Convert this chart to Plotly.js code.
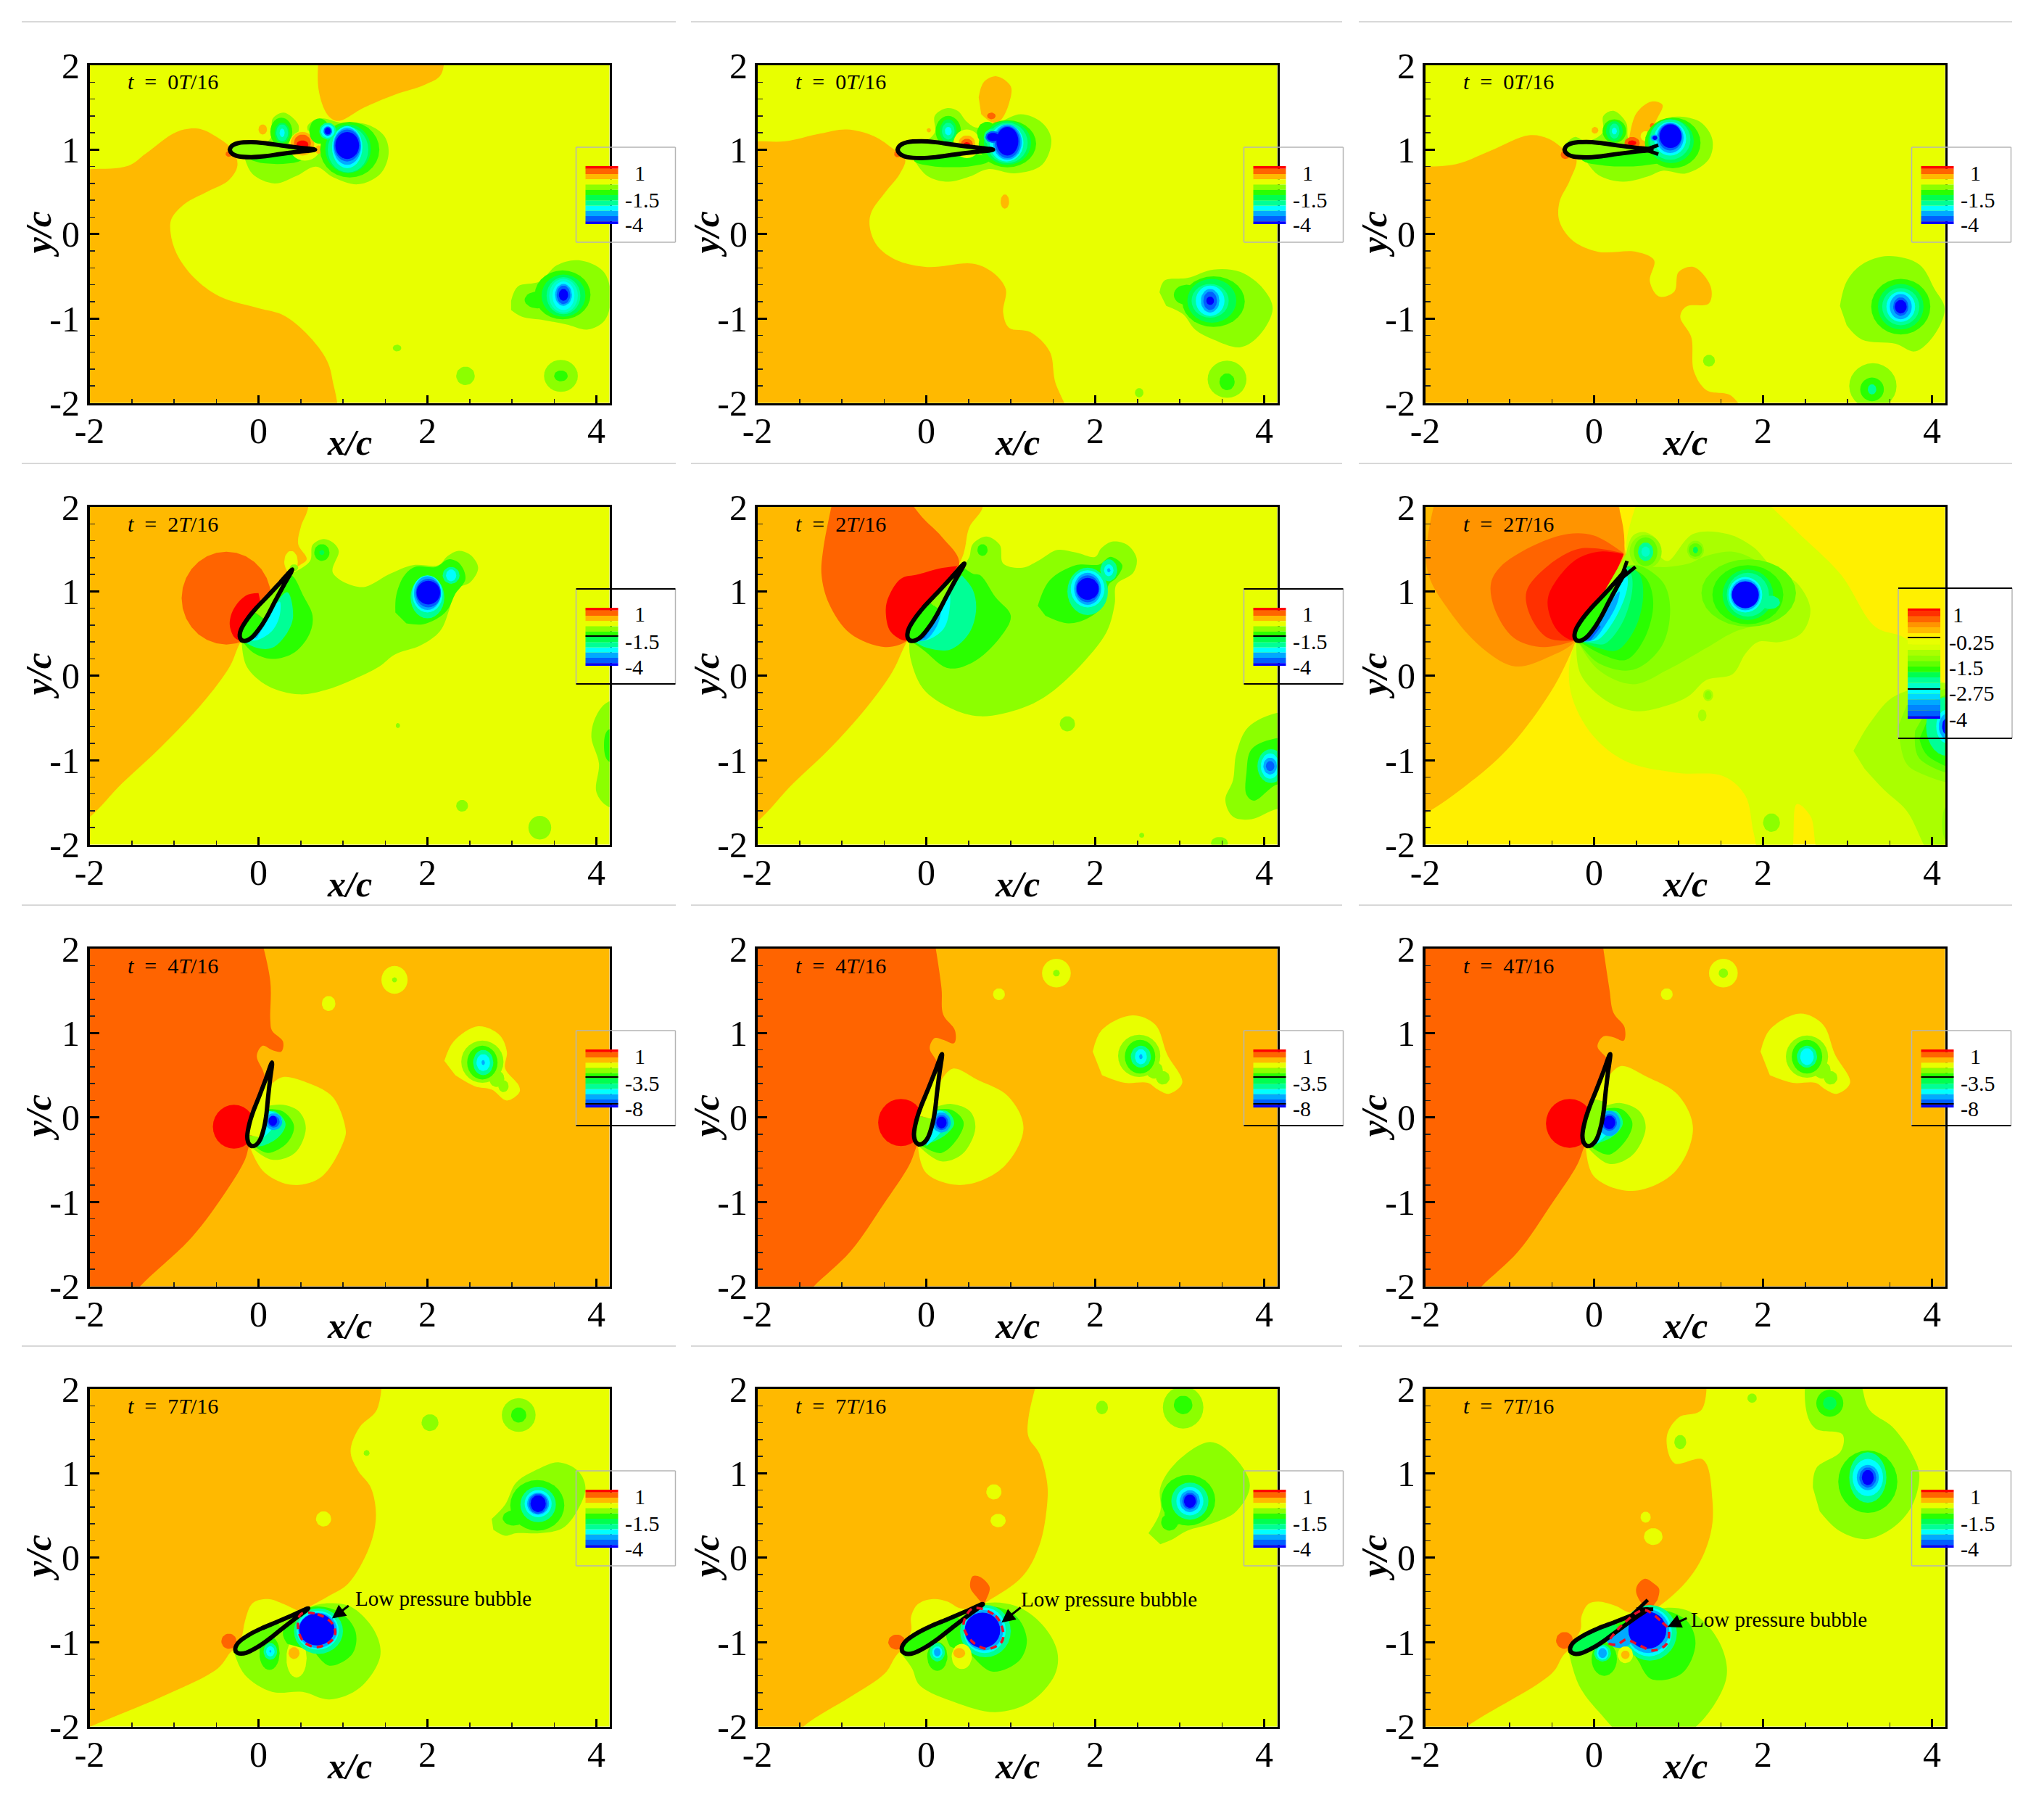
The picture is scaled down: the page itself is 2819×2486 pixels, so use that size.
<!DOCTYPE html>
<html><head><meta charset="utf-8">
<script src="https://cdn.plot.ly/plotly-3.0.1.min.js"></script>
<style>html,body{margin:0;padding:0;background:#fff}#c{width:2819px;height:2486px}</style></head>
<body><div id="c"></div>
<script>
// ---------- colour levels ----------
const colours={R:'#ff0000',Q:'#ff3000',O:'#ff6400',P:'#ff9400',A:'#ffb900',Y:'#fff000',E:'#e8ff00',D:'#d8ff00',H:'#aaff00',C:'#8cff00',F:'#60ff00',G:'#2aff00',N:'#00ff50',S:'#00ff96',T:'#00ffc8',K:'#00ffff',L:'#00aaff',B:'#0060ff',V:'#0000ff'};
const bar12=['R','O','A','E','C','G','N','S','K','L','B','V'];
const bar12h=[.5,1,1,1,1,1,1,1,1,1,1,.5];
const bar21=['R','Q','O','P','A','Y','E','D','H','C','F','G','N','S','T','K','K2','L','B2','B','V'];
const bar21h=[.5,1,1,1,1,1,1,1,1,1,1,1,1,1,1,1,1,1,1,1,.5];
colours.K2='#00d8ff';colours.B2='#0084ff';
const labelsDefault=['1','-1.5','-4'];
const labelsFour=['1','-3.5','-8'];
const labelsFine=['1','-0.25','-1.5','-2.75','-4'];
const xTickVals=[-2,0,2,4], xTickText=['\u20102','0','2','4'];
const yTickVals=[-2,-1,0,1,2], yTickText=['\u20102','\u20101','0','1','2'];
const foilChord=[0,.012,.04,.1,.25,.4,.6,.8,1];
const foilThick=[0,.03,.055,.078,.088,.078,.05,.025,0];

// ---------- contour regions: [level, x,y,x,y,...] polygon or [level, cx,cy,rx,ry,'e'] ellipse ----------
const r1c1=[
['E',-3,-3,5,-3,5,3,-3,3],
['A',-2.6,.77,-2,.77,-1.54,.81,-1.34,.95,-.97,1.21,-.72,1.25,-.51,1.16,-.30,.99,-.25,.81,-.35,.64,-.61,.50,-.87,.36,-1.03,.18,-1.04,.01,-.97,-.23,-.77,-.51,-.46,-.74,.01,-.88,.27,-.95,.53,-1.14,.79,-1.46,.87,-1.70,.87,-2.3,-2.6,-2.3],
['A',.73,2.3,.71,1.72,.82,1.41,.94,1.34,1.25,1.5,1.61,1.65,1.97,1.77,2.16,1.89,2.2,2.3],
['C',-.17,.92,-.07,.71,.19,.60,.45,.69,.68,.80,.89,.67,1.18,.59,1.44,.71,1.54,.95,1.49,1.16,1.28,1.30,.97,1.32,.74,1.37,.58,1.28,.64,1.06,.48,1.13,.47,1.30,.30,1.44,.17,1.37,.14,1.13,-.15,.99],
['G',.22,.9,.32,.07,'e'],['G',.27,1.21,.13,.17,'e'],['N',.28,1.2,.09,.12,'e'],['S',.28,1.2,.07,.1,'e'],['K',.28,1.2,.03,.05,'e'],
['E',.55,1.05,.19,.18,'e'],['A',.52,1.07,.14,.14,'e'],['O',.52,1.08,.1,.1,'e'],['R',.52,1.06,.07,.05,'e'],
['A',.71,1.0,.04,.05,'e'],
['G',1.08,1.0,.35,.33,'e'],['G',.72,1.22,.12,.15,'e'],['N',1.06,1.01,.27,.29,'e'],['S',1.06,1.0,.24,.27,'e'],['K',1.05,1.03,.18,.25,'e'],['L',1.05,1.04,.165,.22,'e'],['B',1.05,1.05,.155,.19,'e'],['V',1.05,1.05,.14,.16,'e'],
['S',.82,1.22,.1,.1,'e'],['K',.82,1.22,.08,.08,'e'],['B',.82,1.22,.05,.055,'e'],['V',.82,1.22,.035,.04,'e'],
['A',.05,1.24,.05,.06,'e'],['O',-.35,.95,.04,.035,'e'],
['C',2.99,-.79,3.07,-.62,3.33,-.56,3.53,-.37,3.79,-.31,4.08,-.44,4.17,-.72,4.10,-1.02,3.90,-1.13,3.64,-1.07,3.38,-1.02,3.12,-.98,2.99,-.90],
['G',3.3,-.78,.15,.1,'e'],['G',3.6,-.72,.33,.29,'e'],['N',3.61,-.73,.26,.25,'e'],['S',3.61,-.73,.2,.22,'e'],['T',3.61,-.73,.17,.2,'e'],['K',3.61,-.73,.13,.17,'e'],['L',3.61,-.72,.1,.13,'e'],['B',3.61,-.72,.08,.11,'e'],['V',3.61,-.72,.055,.07,'e'],
['C',1.64,-1.35,.05,.04,'e'],['C',2.45,-1.68,.11,.11,'e'],['C',3.58,-1.68,.2,.19,'e'],['G',3.58,-1.68,.08,.065,'e']
];
const r1c2=[
['E',-3,-3,5,-3,5,3,-3,3],
['A',-2.6,1.1,-2,1.10,-1.67,1.10,-1.26,1.19,-.94,1.24,-.62,1.16,-.38,1.0,-.25,.89,-.31,.72,-.49,.49,-.65,.26,-.67,.09,-.58,-.14,-.35,-.31,.01,-.39,.55,-.35,.78,-.45,.94,-.65,.91,-.93,.98,-1.11,1.23,-1.16,1.46,-1.39,1.52,-1.73,1.66,-2.3,-2.6,-2.3],
['A',.62,1.62,.68,1.8,.83,1.87,1.0,1.75,.98,1.55,.88,1.35,.79,1.32,.65,1.42],
['O',.77,1.40,.05,.04,'e'],['A',.93,.385,.05,.085,'e'],['A',.03,1.23,.025,.025,'e'],['O',-.34,.95,.04,.04,'e'],
['C',-.15,.89,.01,.69,.26,.62,.51,.68,.73,.77,1.05,.72,1.37,.82,1.48,1.12,1.37,1.32,1.12,1.42,.87,1.33,.6,1.26,.48,1.33,.37,1.46,.24,1.49,.1,1.40,.10,1.20,-.04,1.09,-.26,1.09,-.33,1.05],
['G',.3,.88,.45,.09,'e'],['G',.26,1.22,.15,.18,'e'],['N',.26,1.22,.1,.14,'e'],['S',.26,1.22,.075,.1,'e'],['K',.26,1.22,.04,.05,'e'],
['E',.48,1.07,.16,.17,'e'],['A',.48,1.07,.1,.1,'e'],['O',.48,1.07,.07,.06,'e'],['R',.48,1.06,.04,.03,'e'],
['G',.96,1.07,.34,.28,'e'],['G',.72,1.2,.12,.13,'e'],['N',.96,1.08,.28,.26,'e'],['S',.96,1.08,.24,.24,'e'],['S',.79,1.15,.11,.1,'e'],['K',.95,1.08,.2,.22,'e'],['L',.96,1.09,.17,.21,'e'],['B',.96,1.09,.15,.19,'e'],['B',.79,1.15,.09,.07,'e'],['V',.96,1.10,.13,.17,'e'],['V',.79,1.15,.07,.05,'e'],
['C',2.76,-.69,2.82,-.55,3.09,-.52,3.40,-.42,3.72,-.45,3.99,-.65,4.10,-.88,3.95,-1.19,3.72,-1.34,3.40,-1.25,3.18,-1.13,3.04,-.95,2.84,-.85],
['G',3.08,-.72,.15,.12,'e'],['G',3.4,-.8,.37,.3,'e'],['N',3.38,-.79,.29,.26,'e'],['S',3.36,-.79,.22,.2,'e'],['K',3.36,-.79,.17,.18,'e'],['L',3.36,-.79,.11,.14,'e'],['B',3.36,-.79,.08,.11,'e'],['V',3.36,-.79,.045,.05,'e'],
['C',3.56,-1.72,.23,.22,'e'],['G',3.56,-1.75,.09,.1,'e'],['C',2.52,-1.88,.05,.055,'e']
];
const r1c3=[
['E',-3,-3,5,-3,5,3,-3,3],
['A',-2.6,.8,-1.99,.80,-1.63,.83,-1.22,.99,-.77,1.17,-.54,1.13,-.34,.99,-.21,.89,-.29,.63,-.41,.38,-.41,.15,-.25,-.08,.05,-.21,.5,-.21,.71,-.31,.66,-.56,.77,-.74,.95,-.68,1.0,-.45,1.18,-.39,1.38,-.62,1.36,-.82,1.09,-.86,1.02,-.98,1.15,-1.22,1.18,-1.62,1.33,-1.85,1.63,-1.92,1.8,-2.3,-2.6,-2.3],
['C',-.11,.89,.05,.70,.34,.62,.63,.68,.81,.75,1.09,.72,1.36,.89,1.40,1.12,1.27,1.32,1.04,1.39,.86,1.37,.68,1.23,.54,1.06,.41,1.12,.38,1.32,.23,1.46,.11,1.40,.10,1.20,-.09,1.10,-.23,1.15,-.34,1.07],
['G',.35,.89,.5,.09,'e'],['G',.24,1.22,.14,.14,'e'],['N',.24,1.22,.1,.12,'e'],['S',.24,1.22,.06,.09,'e'],['K',.24,1.22,.03,.04,'e'],
['A',.41,1.1,.5,1.43,.68,1.57,.81,1.53,.72,1.31,.68,1.1,.63,1.02,.45,1.03],
['E',.61,1.16,.06,.06,'e'],['O',.69,1.285,.03,.03,'e'],['O',.45,1.08,.09,.07,'e'],['R',.45,1.08,.05,.03,'e'],['A',.01,1.23,.04,.04,'e'],['O',-.34,.94,.055,.05,'e'],
['G',.93,1.08,.33,.3,'e'],['N',.91,1.1,.27,.26,'e'],['S',.9,1.12,.24,.24,'e'],['K',.9,1.13,.19,.2,'e'],['L',.9,1.14,.16,.18,'e'],['B',.9,1.15,.14,.16,'e'],['V',.905,1.16,.13,.14,'e'],['L',.72,1.14,.05,.04,'e'],['V',.72,1.14,.03,.025,'e'],
['C',2.91,-.85,2.99,-.56,3.17,-.36,3.48,-.26,3.85,-.36,4.03,-.65,4.15,-.88,4.03,-1.19,3.80,-1.39,3.57,-1.30,3.17,-1.25,2.99,-1.08],
['G',3.63,-.86,.35,.33,'e'],['N',3.63,-.86,.27,.27,'e'],['S',3.63,-.86,.22,.22,'e'],['K',3.63,-.86,.17,.18,'e'],['L',3.63,-.86,.13,.15,'e'],['B',3.63,-.86,.09,.11,'e'],['V',3.63,-.86,.07,.08,'e'],
['C',3.3,-1.8,.28,.27,'e'],['G',3.29,-1.84,.14,.14,'e'],['S',3.29,-1.84,.05,.06,'e'],['C',1.36,-1.50,.07,.07,'e']
];
const r2c1=[
['E',-3,-3,5,-3,5,3,-3,3],
['A',.59,2.5,.59,2,.5,1.76,.47,1.56,.57,1.38,.45,1.28,.2,.9,-.2,.42,-.34,.11,-.66,-.32,-1.15,-.84,-1.61,-1.27,-2.1,-1.75,-2.6,-1.9,-2.6,2.5],
['E',.385,1.35,.08,.13,'e'],
['O',-.38,.92,.53,.55,'e'],
['R',0,.98,-.15,.95,-.3,.78,-.34,.6,-.28,.45,-.2,.42,-.1,.5,.05,.75],
['C',-.2,.42,-.14,.11,.11,-.12,.48,-.22,.79,-.17,1.11,-.05,1.43,.11,1.61,.25,1.92,.36,2.15,.53,2.26,.79,2.33,1.02,2.51,1.11,2.60,1.28,2.51,1.43,2.37,1.48,2.24,1.42,2.13,1.31,1.83,1.31,1.56,1.21,1.22,1.05,.88,1.22,.95,1.48,.88,1.58,.77,1.62,.64,1.55,.61,1.36,.41,1.22,.34,1.19,.2,.76],
['G',-.2,.42,-.07,.28,.16,.2,.43,.28,.61,.51,.64,.71,.54,.93,.38,1.19,.16,.82],
['S',-.2,.42,-.02,.33,.16,.33,.34,.51,.41,.71,.34,.99,.11,.71],
['K',-.14,.42,-.02,.42,.16,.53,.25,.71,.25,.88,.07,.65],
['L',-.17,.42,-.02,.45,.1,.65,.05,.65],
['C',.42,1.28,.05,.04,'e'],
['G',.75,1.46,.09,.1,'e'],['N',.75,1.46,.03,.03,'e'],
['G',1.62,.75,1.63,.95,1.72,1.18,1.85,1.29,2.1,1.29,2.25,1.38,2.38,1.33,2.45,1.15,2.33,.97,2.25,.80,2.15,.70,1.95,.61,1.75,.62],
['S',2.0,.93,.2,.25,'e'],['S',2.28,1.19,.1,.1,'e'],['K',2.0,.97,.18,.22,'e'],['K',2.28,1.19,.06,.07,'e'],['L',2.0,.98,.16,.2,'e'],['B',2.01,.98,.15,.17,'e'],['V',2.01,.985,.14,.14,'e'],
['C',4.4,-.31,4.14,-.31,4.0,-.47,3.94,-.72,4.03,-1.04,4.0,-1.38,4.14,-1.55,4.4,-1.55],
['G',4.4,-.64,4.14,-.64,4.09,-.81,4.14,-1.01,4.4,-1.01],
['C',1.65,-.59,.025,.03,'e'],['C',2.41,-1.54,.07,.07,'e'],['C',3.33,-1.80,.135,.14,'e']
];
const r2c2=[
['E',-3,-3,5,-3,5,3,-3,3],
['A',.67,2.5,.67,2,.51,1.76,.42,1.39,-.22,.42,-.4,.05,-.71,-.38,-1.12,-.84,-1.57,-1.27,-2.1,-1.8,-2.6,-1.95,-2.6,2.5],
['O',-1.08,2.2,-1.22,1.5,-1.24,1.19,-1.15,.85,-.9,.5,-.49,.34,-.22,.42,0,.8,.39,1.33,.18,1.65,-.05,1.88,-.29,2.2],
['R',.37,1.3,.15,1.27,-.1,1.2,-.3,1.15,-.44,.95,-.48,.78,-.42,.52,-.22,.42,0,.75],
['C',-.2,.42,-.19,.22,-.04,-.15,.28,-.38,.64,-.48,1.14,-.38,1.46,-.21,1.86,.16,2.14,.53,2.23,.85,2.25,1.08,2.45,1.22,2.49,1.39,2.38,1.55,2.20,1.59,2.07,1.51,2.0,1.41,1.77,1.46,1.55,1.49,1.32,1.36,1.14,1.28,.91,1.33,.87,1.55,.71,1.65,.55,1.56,.51,1.41,.46,1.33,.37,1.19],
['G',-.2,.42,-.04,.31,.26,.09,.55,.16,.87,.45,1.0,.71,.82,.93,.64,1.19,.55,1.21,.42,1.3],
['S',-.17,.42,.01,.33,.28,.31,.51,.51,.59,.79,.55,1.02,.42,1.19],
['K',-.15,.42,0,.42,.2,.55,.27,.75,.27,.98,.1,.75],
['L',-.14,.41,0,.43,.13,.6,.17,.75,.15,.85,.05,.65],
['B',-.13,.41,-.02,.45,.08,.6,.02,.6],
['G',.665,1.49,.06,.07,'e'],
['G',1.32,.83,1.46,1.13,1.77,1.31,2.05,1.32,2.18,1.41,2.32,1.31,2.25,1.16,2.16,1.08,2.11,.85,1.91,.68,1.68,.62,1.41,.71],
['S',1.91,1.0,.24,.28,'e'],['S',2.16,1.25,.1,.13,'e'],['K',1.91,1.03,.2,.22,'e'],['K',2.16,1.25,.055,.07,'e'],['L',2.16,1.25,.02,.025,'e'],['L',1.91,1.03,.16,.19,'e'],['B',1.91,1.03,.14,.16,'e'],['V',1.91,1.03,.13,.13,'e'],
['C',4.4,-.44,4.15,-.44,3.81,-.61,3.67,-.92,3.63,-1.24,3.54,-1.47,3.63,-1.67,3.85,-1.7,4.15,-1.58,4.4,-1.58],
['G',4.4,-.74,4.15,-.74,3.85,-.87,3.79,-1.15,3.79,-1.41,3.88,-1.48,4.15,-1.29,4.4,-1.29],
['S',4.08,-1.07,.16,.2,'e'],['K',4.07,-1.07,.11,.15,'e'],['L',4.07,-1.07,.08,.1,'e'],['B',4.07,-1.07,.05,.06,'e'],
['C',1.67,-.57,.09,.09,'e'],['C',2.55,-1.89,.03,.03,'e'],['C',3.47,-1.98,.1,.07,'e']
];
const r2c3=[
['Y',-3,-3,5,-3,5,3,-3,3],
['A',-.21,.42,-.47,-.12,-.98,-.82,-1.49,-1.28,-2.1,-1.68,-2.6,-1.8,-2.6,2.5,.3,2.5,.3,2,.38,1.4],
['P',-1.85,2.2,-1.98,1.28,-1.7,.75,-1.29,.3,-.93,.11,-.52,.23,-.21,.42,.35,1.45,.23,2.2],
['O',.35,1.45,0,1.66,-.31,1.68,-.7,1.55,-1.1,1.3,-1.22,1.1,-1.18,.8,-.95,.45,-.6,.34,-.21,.42],
['Q',.35,1.45,.1,1.5,-.2,1.5,-.55,1.3,-.8,1.0,-.75,.7,-.55,.45,-.21,.42],
['R',.35,1.44,.05,1.47,-.25,1.35,-.54,.95,-.52,.7,-.4,.5,-.21,.42,.1,.85],
['D',.56,2.2,.38,1.55,.45,1.2,-.21,.42,-.29,-.12,-.06,-.65,.35,-1,.97,-1.15,1.53,-1.19,1.79,-1.42,1.89,-1.87,1.99,-2.2,2.3,-2.2,2.4,-1.52,2.56,-1.66,2.72,-2.2,4.4,-2.2,4.4,-.2,4.15,-.1,3.69,.44,3.33,.58,2.92,1.2,2.41,1.7,1.89,2.2],
['H',3.07,-.89,3.28,-.54,3.58,-.23,4.4,-.15,4.4,-2.2,4.05,-2.2,3.7,-1.6,3.43,-1.35,3.2,-1.1],
['C',3.6,-.6,3.69,-1.03,3.85,-1.15,4.4,-1.25,4.4,-.15,3.9,-.25,3.7,-.35],
['F',3.8,-.65,3.85,-.98,4.4,-1.15,4.4,-.2,4.0,-.3],
['G',3.85,-.75,3.95,-.95,4.4,-1.1,4.4,-.3,4.0,-.4],
['S',4.18,-.6,.25,.35,'e'],['K',4.18,-.6,.13,.2,'e'],['L',4.18,-.6,.1,.15,'e'],['V',4.18,-.6,.06,.1,'e'],
['H',-.21,.42,-.16,.02,.15,-.3,.51,-.42,.87,-.35,1.12,-.24,1.33,-.05,1.64,.02,1.79,.26,1.94,.4,2.2,.4,2.46,.51,2.56,.79,2.4,1.1,2.15,1.24,1.89,1.52,1.58,1.68,1.17,1.68,.87,1.36,.76,1.45,.76,1.59,.61,1.7,.46,1.66,.38,1.45],
['H',1.35,-.23,.06,.07,'e'],['H',1.28,-.47,.05,.07,'e'],['C',1.35,-.23,.04,.05,'e'],
['C',2.1,-1.74,.1,.11,'e'],['C',4.17,-1.75,.05,.2,'e'],
['C',-.2,.42,.05,.07,.46,-.1,.87,.07,1.33,.33,1.64,.51,2.15,.68,2.33,.86,2.2,1.0,2.05,1.24,1.89,1.38,1.64,1.47,1.33,1.42,1.12,1.33,.87,1.29,.71,1.29,.4,1.3],
['C',.61,1.47,.19,.2,'e'],['C',1.2,1.49,.1,.11,'e'],
['F',-.2,.42,.05,.15,.46,.07,.8,.35,.9,.79,.82,1.1,.55,1.3,.37,1.3],
['F',1.83,.98,.56,.4,'e'],['F',.61,1.47,.14,.17,'e'],['F',1.2,1.49,.08,.08,'e'],
['G',-.2,.42,.1,.25,.38,.19,.6,.45,.7,.86,.62,1.15,.4,1.3],
['N',-.2,.42,.08,.32,.27,.3,.48,.55,.58,.93,.54,1.2,.4,1.3],
['S',-.2,.42,0,.38,.13,.38,.33,.62,.45,1.0,.44,1.2,.38,1.28],
['K',-.2,.42,.03,.42,.2,.6,.36,.92,.4,1.12,.37,1.27],
['L',-.2,.41,-.02,.42,.13,.6,.27,.85,.3,1.0,.1,.72],
['B',-.18,.41,-.04,.42,.08,.58,.04,.62],
['G',1.82,.96,.42,.35,'e'],['N',1.82,.96,.3,.3,'e'],['S',1.82,.96,.25,.26,'e'],['S',2.08,.87,.12,.08,'e'],['K',1.79,.96,.2,.21,'e'],['L',1.79,.96,.175,.185,'e'],['V',1.79,.96,.16,.16,'e'],
['S',.61,1.47,.09,.11,'e'],['T',.61,1.47,.05,.06,'e'],['N',1.2,1.49,.03,.04,'e']
];
const r3c1=[
['A',-3,-3,5,-3,5,3,-3,3],
['O',.01,2.2,.14,1.61,.14,1.15,.16,1.03,.29,.9,.27,.78,.16,.8,.05,.85,-.02,.73,.07,.5,.05,.1,-.11,-.33,-.16,-.5,-.38,-.87,-.79,-1.42,-1.4,-2.0,-1.6,-2.25,-2.6,-2.4,-2.6,2.2],
['R',-.29,-.11,.25,.26,'e'],
['E',-.11,-.33,.07,-.65,.41,-.8,.75,-.7,1.02,-.25,1.03,-.13,.88,.24,.61,.4,.29,.48,.16,.4],
['C',-.11,-.33,.16,-.5,.43,-.42,.56,-.13,.48,.07,.29,.15,.07,.13],
['G',-.05,-.34,.11,-.42,.34,-.3,.42,-.1,.29,.07,.07,.1],
['S',-.05,-.34,.07,-.33,.25,-.22,.32,-.07,.2,.07,.09,.07],
['K',-.04,-.33,.1,-.2,.2,-.1,.28,-.03,.2,.05,.1,.07,.05,-.1],
['L',.18,-.05,.1,.1,'e'],['B',.18,-.05,.07,.07,'e'],['V',.17,-.04,.05,.06,'e'],
['E',2.2,.67,2.31,.9,2.6,1.08,2.85,.98,2.94,.78,2.92,.58,3.08,.38,3.09,.3,2.94,.2,2.76,.33,2.56,.37,2.33,.5],
['C',2.65,.66,.25,.25,'e'],['C',2.82,.46,.09,.1,'e'],['C',2.9,.37,.06,.07,'e'],['G',2.65,.65,.18,.2,'e'],['S',2.66,.65,.12,.15,'e'],['K',2.66,.65,.08,.1,'e'],['L',2.66,.65,.02,.03,'e'],
['E',1.61,1.63,.155,.165,'e'],['C',1.61,1.63,.03,.03,'e'],['E',.83,1.35,.08,.09,'e']
];
const r3c2=[
['A',-3,-3,5,-3,5,3,-3,3],
['O',.08,2.2,.18,1.53,.2,1.22,.34,1.03,.33,.88,.2,.92,.1,.94,.04,.82,.14,.62,.12,.2,-.11,-.33,-.2,-.56,-.5,-1.02,-.9,-1.59,-1.33,-2.0,-1.55,-2.25,-2.6,-2.4,-2.6,2.2],
['R',-.3,-.06,.27,.28,'e'],
['E',-.1,-.33,.0,-.66,.42,-.8,.9,-.6,1.15,-.13,.97,.25,.6,.45,.32,.58,.18,.45],
['C',-.1,-.33,.18,-.52,.43,-.43,.58,-.13,.52,.07,.3,.16,.1,.12],
['G',-.05,-.34,.18,-.42,.39,-.22,.44,-.05,.3,.09,.1,.09],
['S',-.05,-.34,.21,-.22,.33,-.07,.25,.07,.1,.08],
['K',.0,-.34,.15,-.2,.26,-.02,.2,.07,.1,.07,.04,-.15],
['L',.18,-.06,.11,.12,'e'],['B',.18,-.06,.08,.09,'e'],['V',.18,-.06,.06,.07,'e'],
['E',1.97,.78,2.08,1.04,2.44,1.21,2.71,1.10,2.85,.75,3.03,.41,2.87,.28,2.74,.33,2.62,.41,2.35,.41,2.08,.5],
['C',2.52,.73,.25,.25,'e'],['C',2.7,.56,.1,.1,'e'],['C',2.8,.47,.08,.08,'e'],['G',2.53,.72,.18,.2,'e'],['S',2.54,.72,.12,.13,'e'],['K',2.54,.72,.07,.09,'e'],['L',2.54,.72,.02,.03,'e'],
['E',1.54,1.71,.17,.17,'e'],['C',1.54,1.71,.04,.04,'e'],['E',.86,1.46,.07,.07,'e']
];
const r3c3=[
['A',-3,-3,5,-3,5,3,-3,3],
['O',.08,2.2,.18,1.53,.23,1.24,.36,1.07,.35,.91,.23,.95,.11,.96,.04,.84,.16,.68,.14,.55,.1,.1,-.11,-.33,-.2,-.56,-.5,-1.02,-.9,-1.59,-1.33,-2.0,-1.55,-2.25,-2.6,-2.4,-2.6,2.2],
['R',-.29,-.07,.28,.29,'e'],
['E',-.1,-.33,0,-.7,.45,-.87,.95,-.65,1.17,-.13,.99,.27,.63,.48,.32,.61,.18,.5],
['C',-.1,-.33,.18,-.55,.45,-.45,.61,-.13,.54,.07,.32,.17,.11,.13],
['G',-.05,-.34,.18,-.44,.41,-.22,.45,-.05,.32,.1,.11,.1],
['S',-.05,-.34,.23,-.22,.34,-.07,.27,.07,.11,.07],
['K',0,-.34,.15,-.2,.28,-.02,.2,.07,.1,.07,.02,-.15],
['L',.18,-.07,.13,.15,'e'],['B',.18,-.06,.09,.1,'e'],['V',.18,-.06,.07,.08,'e'],
['E',1.97,.78,2.08,1.04,2.44,1.23,2.71,1.10,2.85,.75,3.03,.41,2.87,.28,2.74,.33,2.62,.41,2.35,.41,2.08,.5],
['C',2.52,.72,.25,.25,'e'],['C',2.7,.56,.1,.1,'e'],['C',2.8,.47,.08,.08,'e'],['G',2.52,.72,.18,.2,'e'],['S',2.52,.72,.12,.13,'e'],['K',2.52,.72,.08,.1,'e'],
['E',1.53,1.71,.17,.17,'e'],['C',1.53,1.71,.055,.055,'e'],['E',.86,1.46,.07,.07,'e']
];
const r4c1=[
['E',-3,-3,5,-3,5,3,-3,3],
['A',1.47,2.3,1.40,1.75,1.2,1.55,1.09,1.26,1.18,1.03,1.33,.83,1.39,.49,1.31,.12,1.06,-.31,.84,-.45,.59,-.59,-.25,-1.08,-.32,-1.11,-.48,-1.31,-1.15,-1.65,-2.1,-2.05,-2.6,-2.3,-2.6,2.3],
['E',-.27,-1.1,-.2,-.95,-.16,-.75,-.07,-.54,.11,-.49,.3,-.55,.45,-.62,.55,-.65],
['O',-.35,-.99,.09,.09,'e'],
['C',-.29,-1.12,-.16,-1.39,.16,-1.59,.52,-1.59,.84,-1.68,1.2,-1.54,1.44,-1.17,1.38,-.88,1.11,-.59,.84,-.54,.59,-.59,.1,-.85],
['E',.45,-1.19,.12,.23,'e'],['A',.42,-1.13,.065,.07,'e'],
['G',.66,-1.11,.84,-1.28,1.11,-1.14,1.15,-.88,.97,-.65,.61,-.59,.29,-.88,.34,-1.02],
['S',.71,-.87,.29,.27,'e'],['K',.7,-.86,.25,.23,'e'],['L',.7,-.86,.23,.21,'e'],['V',.69,-.85,.21,.19,'e'],
['G',.13,-1.13,.12,.2,'e'],['S',.14,-1.11,.08,.1,'e'],['K',.14,-1.11,.05,.06,'e'],['L',.14,-1.11,.012,.015,'e'],
['C',2.76,.46,2.92,.63,3.05,.89,3.33,1.06,3.55,1.13,3.78,1.03,3.87,.83,3.77,.55,3.6,.35,3.33,.29,3.05,.29,2.92,.26,2.78,.33],
['G',3.3,.62,.32,.3,'e'],['G',3.02,.47,.13,.09,'e'],['S',3.31,.63,.21,.21,'e'],['K',3.31,.64,.16,.16,'e'],['L',3.31,.64,.13,.13,'e'],['B',3.31,.64,.11,.12,'e'],['V',3.31,.64,.09,.1,'e'],
['C',2.03,1.6,.1,.1,'e'],['C',3.08,1.69,.2,.2,'e'],['G',3.08,1.69,.09,.09,'e'],['C',1.28,1.24,.035,.035,'e'],['E',.77,.46,.09,.09,'e']
];
const r4c2=[
['E',-3,-3,5,-3,5,3,-3,3],
['A',1.37,2.3,1.21,1.66,1.21,1.43,1.34,1.23,1.43,.89,1.43,.63,1.34,.15,1.14,-.22,.69,-.54,-.31,-1.11,-.49,-1.37,-.9,-1.65,-1.44,-1.99,-1.7,-2.3,-2.6,-2.4,-2.6,2.3],
['E',-.3,-1.08,-.18,-.87,-.18,-.7,-.1,-.55,.08,-.49,.25,-.52,.4,-.6,.6,-.6],
['O',-.35,-1,.1,.09,'e'],
['O',.68,-.56,.6,-.47,.52,-.35,.55,-.22,.64,-.23,.75,-.35,.72,-.47],
['C',-.31,-1.12,-.17,-1.31,-.08,-1.51,.33,-1.71,.82,-1.83,1.23,-1.71,1.52,-1.39,1.55,-1.11,1.37,-.79,1.05,-.57,.64,-.55,.1,-.85],
['G',.55,-1.17,.78,-1.35,1.1,-1.22,1.19,-.97,1.05,-.68,.69,-.58,.24,-.88,.28,-1.05],
['S',.7,-.87,.3,.31,'e'],['K',.69,-.86,.25,.27,'e'],['L',.68,-.86,.23,.24,'e'],['V',.665,-.86,.21,.21,'e'],
['G',.13,-1.17,.12,.17,'e'],['S',.13,-1.12,.09,.11,'e'],['K',.13,-1.12,.06,.07,'e'],['L',.13,-1.12,.04,.05,'e'],
['E',.42,-1.17,.12,.15,'e'],['A',.39,-1.13,.07,.06,'e'],
['C',2.63,.29,2.77,.55,2.77,.83,2.95,1.12,3.36,1.37,3.63,1.21,3.83,.86,3.67,.55,3.4,.41,3.09,.32,2.9,.21,2.77,.16],
['G',2.88,.42,.1,.1,'e'],['G',2.95,.52,.13,.13,'e'],['G',3.1,.68,.32,.3,'e'],['S',3.12,.67,.22,.22,'e'],['K',3.12,.67,.16,.17,'e'],['L',3.12,.67,.12,.13,'e'],['B',3.12,.67,.09,.1,'e'],['V',3.12,.67,.07,.08,'e'],
['C',3.04,1.78,.24,.25,'e'],['G',3.04,1.81,.11,.11,'e'],['C',2.08,1.78,.07,.08,'e'],['E',.8,.78,.09,.09,'e'],['E',.85,.44,.09,.08,'e']
];
const r4c3=[
['E',-3,-3,5,-3,5,3,-3,3],
['A',1.33,2.3,1.27,1.75,1,1.66,.86,1.43,.95,1.12,1.29,1.16,1.4,.69,1.38,.29,1.18,-.17,.72,-.61,-.32,-1.11,-.5,-1.37,-1.49,-1.99,-2.0,-2.4,-2.6,-2.4,-2.6,2.3],
['E',-.3,-1.08,-.16,-.85,-.15,-.7,-.07,-.55,.05,-.52,.25,-.57,.42,-.65,.6,-.62],
['O',-.35,-.98,.1,.1,'e'],
['O',.68,-.6,.6,-.58,.5,-.42,.51,-.33,.6,-.25,.7,-.3,.77,-.37,.75,-.5],
['C',-.3,-1.12,-.18,-1.51,.05,-1.82,.41,-2.15,.95,-2.15,1.27,-1.94,1.56,-1.45,1.54,-1.14,1.36,-.82,1.09,-.62,.72,-.61,.1,-.85],
['G',.54,-1.25,.68,-1.44,1.04,-1.37,1.2,-1.02,1.09,-.74,.72,-.62,.27,-.88,.45,-1.11],
['S',.66,-.89,.32,.33,'e'],['K',.65,-.88,.27,.29,'e'],['L',.64,-.87,.25,.26,'e'],['L',.3,-.93,.17,.14,'e'],['V',.63,-.86,.225,.22,'e'],
['G',.12,-1.2,.15,.2,'e'],['S',.1,-1.13,.1,.1,'e'],['K',.1,-1.13,.07,.08,'e'],['L',.1,-1.13,.05,.06,'e'],
['E',.37,-1.15,.09,.1,'e'],['A',.37,-1.15,.05,.05,'e'],
['C',2.59,.83,2.63,1.06,2.92,1.26,2.94,1.46,2.62,1.53,2.51,1.75,2.56,2.2,3.08,2.2,3.26,1.75,3.53,1.55,3.76,1.23,3.85,.98,3.76,.61,3.53,.35,3.21,.22,2.9,.32,2.67,.55],
['G',3.24,.9,.35,.37,'e'],['S',3.24,.95,.22,.3,'e'],['K',3.24,.95,.18,.22,'e'],['L',3.24,.95,.13,.15,'e'],['B',3.24,.95,.1,.12,'e'],['V',3.24,.95,.07,.09,'e'],
['G',2.79,1.83,.16,.16,'e'],['N',2.79,1.83,.08,.08,'e'],
['C',1.02,1.37,.07,.085,'e'],['C',1.87,1.89,.055,.055,'e'],['E',.61,.48,.06,.065,'e'],['E',.7,.25,.11,.1,'e']
];

// ---------- airfoil pose per panel: leading edge, trailing edge, interior colour bands, crossing tail strokes ----------
const foils=[
 {le:[-.34,1],te:[.67,1],bands:[['C',0,1]],tail:[]},
 {le:[-.34,1],te:[.79,1],bands:[['C',0,.8],['E',.8,1]],tail:[]},
 {le:[-.35,1],te:[.68,1],bands:[['C',0,1]],tail:[[.55,.98,.76,1.054],[.55,1.02,.76,.946]]},
 {le:[-.2,.42],te:[.4,1.26],bands:[['G',0,.35],['C',.35,.8],['E',.8,1]],tail:[]},
 {le:[-.2,.42],te:[.45,1.33],bands:[['G',0,.45],['C',.45,.9],['E',.9,1]],tail:[]},
 {le:[-.21,.42],te:[.37,1.24],bands:[['G',0,.75],['C',.75,1]],tail:[[.29,1.08,.39,1.36],[.33,1.16,.49,1.29]]},
 {le:[-.08,-.34],te:[.16,.65],bands:[['C',0,.12],['E',.12,1]],tail:[]},
 {le:[-.09,-.32],te:[.185,.75],bands:[['C',0,.3],['E',.3,1]],tail:[]},
 {le:[-.08,-.34],te:[.19,.75],bands:[['C',0,.5],['E',.5,1]],tail:[]},
 {le:[-.27,-1.11],te:[.59,-.6],bands:[['F',0,.6],['C',.6,1]],tail:[]},
 {le:[-.285,-1.11],te:[.67,-.55],bands:[['G',0,.7],['C',.7,1]],tail:[]},
 {le:[-.28,-1.11],te:[.63,-.61],bands:[['N',0,.6],['G',.6,1]],tail:[[.45,-.68,.635,-.5],[.5,-.61,.7,-.61]]}
];
const bubbleA=[.5,-.67,.7,-.67,.88,-.79,.9,-.94,.7,-1.06,.54,-1,.47,-.85,.5,-.67];
const bubbleB=[.55,-.6,.82,-.69,.91,-.88,.89,-1,.73,-1.08,.55,-1,.44,-.8,.55,-.6];
const bubbleC=[.59,-.62,.81,-.77,.88,-.85,.86,-1.02,.7,-1.1,.5,-1.02,.38,-.97,.27,-1.03,.17,-1.01,.23,-.91,.36,-.77,.59,-.62];
const bubbleLabels=[{x:1.125,y:-.48,ax:1.08,ay:-.56,hx:.87,hy:-.72},{x:1.1,y:-.49,ax:1.13,ay:-.58,hx:.89,hy:-.77},{x:1.13,y:-.73,ax:1.11,ay:-.71,hx:.87,hy:-.82}];
const panelTimes=['0','0','0','2','2','2','4','4','4','7','7','7'];
const panelFields=[r1c1,r1c2,r1c3,r2c1,r2c2,r2c3,r3c1,r3c2,r3c3,r4c1,r4c2,r4c3];
const panelBubbles=[null,null,null,null,null,null,null,null,null,bubbleA,bubbleB,bubbleC];

// ---------- page geometry (pixels) ----------
const W=2819,H=2486,PW=717,PH=465.5;
const colLeft=[123.5,1044.5,1965.5], rowTop=[90,699,1308,1915];
const sepY=[30,639,1248,1856], sepX=[[30,932],[953,1851],[1874,2775]];
const fx=p=>p/W, fy=p=>1-p/H;
const serif='Liberation Serif, Times New Roman, serif';

const traces=[];
const layout={width:W,height:H,margin:{l:0,r:0,t:0,b:0},paper_bgcolor:'#fff',plot_bgcolor:'#fff',showlegend:false,hovermode:false,shapes:[],annotations:[],font:{family:serif,color:'#000'}};

function unpack(a){const x=[],y=[];for(let i=0;i<a.length;i+=2){x.push(a[i]);y.push(a[i+1]);}return {x,y};}
function ellipse(cx,cy,rx,ry){const x=[],y=[];for(let k=0;k<=28;k++){const t=2*Math.PI*k/28;x.push(cx+rx*Math.cos(t));y.push(cy+ry*Math.sin(t));}return {x,y};}
function foilPath(f,s0,s1){
  const dx=f.te[0]-f.le[0],dy=f.te[1]-f.le[1],L=Math.hypot(dx,dy),nx=-dy/L,ny=dx/L;
  const thick=s=>{for(let i=1;i<foilChord.length;i++){if(s<=foilChord[i]){const a=(s-foilChord[i-1])/(foilChord[i]-foilChord[i-1]);return foilThick[i-1]+a*(foilThick[i]-foilThick[i-1]);}}return 0;};
  const ss=[s0,...foilChord.filter(s=>s>s0&&s<s1),s1];
  const x=[],y=[];
  const pt=(s,side)=>{const t=thick(s)*L*side;x.push(f.le[0]+s*dx+t*nx);y.push(f.le[1]+s*dy+t*ny);};
  ss.slice().reverse().forEach(s=>pt(s,1));
  ss.forEach(s=>pt(s,-1));
  return {x,y};
}

panelFields.forEach((field,i)=>{
  const col=i%3,row=Math.floor(i/3),n=i+1,xa=n===1?'x':'x'+n,ya=n===1?'y':'y'+n;
  const L=colLeft[col],T=rowTop[row];
  const common={showgrid:false,zeroline:false,showline:true,mirror:true,linecolor:'#000',linewidth:3.5,tickmode:'array',ticks:'inside',tickcolor:'#000',tickwidth:3,tickfont:{family:serif,size:50,color:'#000'},automargin:false};
  layout['xaxis'+(n===1?'':n)]=Object.assign({},common,{domain:[fx(L),fx(L+PW)],anchor:ya,range:[-2,4.154],tickvals:xTickVals,ticktext:xTickText,ticklen:11,ticklabelstandoff:-8,minor:{tickmode:'linear',tick0:0,dtick:.5,ticks:'inside',ticklen:6,tickwidth:1.5,tickcolor:'#222'}});
  layout['yaxis'+(n===1?'':n)]=Object.assign({},common,{domain:[fy(T+PH),fy(T)],anchor:xa,range:[-2,2],tickvals:yTickVals,ticktext:yTickText,ticklen:13,minor:{tickmode:'linear',tick0:0,dtick:.2,ticks:'inside',ticklen:7,tickwidth:1.5,tickcolor:'#222'}});
  // axis titles
  layout.annotations.push({xref:'paper',yref:'paper',x:fx(L+PW/2),y:fy(T+PH+54),xanchor:'center',yanchor:'middle',showarrow:false,text:'<b><i>x/c</i></b>',font:{family:serif,size:50,color:'#000'}});
  layout.annotations.push({xref:'paper',yref:'paper',x:fx(L-71),y:fy(T+PH/2),xanchor:'center',yanchor:'middle',textangle:-90,showarrow:false,text:'<b><i>y/c</i></b>',font:{family:serif,size:50,color:'#000'}});
  // contour bands
  field.forEach(reg=>{
    const isE=reg[reg.length-1]==='e';
    const p=isE?ellipse(reg[1],reg[2],reg[3],reg[4]):unpack(reg.slice(1));
    const rect=!isE&&p.x.length<=4;
    traces.push({type:'scatter',mode:'lines',x:p.x,y:p.y,xaxis:xa,yaxis:ya,fill:'toself',fillcolor:colours[reg[0]],line:{width:0,shape:(isE||rect)?'linear':'spline',smoothing:1},hoverinfo:'skip'});
  });
  // airfoil
  const f=foils[i];
  f.bands.forEach(b=>{const p=foilPath(f,b[1],b[2]);traces.push({type:'scatter',mode:'lines',x:p.x,y:p.y,xaxis:xa,yaxis:ya,fill:'toself',fillcolor:colours[b[0]],line:{width:0},hoverinfo:'skip'});});
  const o=foilPath(f,0,1);
  traces.push({type:'scatter',mode:'lines',x:o.x,y:o.y,xaxis:xa,yaxis:ya,line:{color:'#000',width:6,shape:'spline',smoothing:1},hoverinfo:'skip'});
  f.tail.forEach(t=>traces.push({type:'scatter',mode:'lines',x:[t[0],t[2]],y:[t[1],t[3]],xaxis:xa,yaxis:ya,line:{color:'#000',width:5},hoverinfo:'skip'}));
  // low pressure bubble
  if(panelBubbles[i]){
    const b=unpack(panelBubbles[i]);
    traces.push({type:'scatter',mode:'lines',x:b.x,y:b.y,xaxis:xa,yaxis:ya,line:{color:'#e8102a',width:3.5,dash:'9px,7px',shape:'spline',smoothing:1},hoverinfo:'skip'});
    const q=bubbleLabels[col];
    layout.annotations.push({xref:xa,yref:ya,x:q.x,y:q.y,xanchor:'left',yanchor:'middle',text:'Low pressure bubble',showarrow:false,font:{family:serif,size:29,color:'#000'}});
    layout.annotations.push({xref:xa,yref:ya,axref:xa,ayref:ya,x:q.hx,y:q.hy,ax:q.ax,ay:q.ay,text:'',showarrow:true,arrowhead:2,arrowsize:1.25,arrowwidth:3,arrowcolor:'#000'});
  }
  // time label
  layout.annotations.push({xref:'paper',yref:'paper',x:fx(L+50),y:fy(T+23),xanchor:'left',yanchor:'middle',showarrow:false,text:'<i>t</i>\u2002=\u2002'+panelTimes[i]+'<i>T</i>/16',font:{family:serif,size:30,color:'#000'}});
  // contour legend
  const fine=i===5;
  const R=L+PW;
  const box=fine?{l:2618,r:2775,t:811,b:1018}:{l:R-46,r:R+91,t:T+113,b:T+244};
  const bar=fine?{l:2631,r:2676,t:839,b:991}:{l:R-33,r:R+12,t:T+139,b:T+219};
  const keys=fine?bar21:bar12, hs=fine?bar21h:bar12h, tot=hs.reduce((a,b)=>a+b,0);
  let yy=bar.t;
  keys.forEach((k,j)=>{const h=(bar.b-bar.t)*hs[j]/tot;layout.shapes.push({type:'rect',xref:'paper',yref:'paper',x0:fx(bar.l),x1:fx(bar.r),y0:fy(yy),y1:fy(yy+h),fillcolor:colours[k],line:{width:0}});yy+=h;});
  const gray='#b4b4b4';
  const darkTop=row===1, darkBottom=row===1||row===2;
  const seg=(x0,y0,x1,y1,c,w)=>layout.shapes.push({type:'line',xref:'paper',yref:'paper',x0:fx(x0),x1:fx(x1),y0:fy(y0),y1:fy(y1),line:{color:c,width:w}});
  seg(box.l,box.t,box.l,box.b,gray,1.5);seg(box.r,box.t,box.r,box.b,gray,1.5);
  seg(box.l,box.t,box.r,box.t,darkTop?'#000':gray,darkTop?2:1.5);seg(box.l,box.b,box.r,box.b,darkBottom?'#000':gray,darkBottom?2:1.5);
  if(row===1){const yl=fine?[879,950]:[T+178];yl.forEach(v=>seg(bar.l,v,bar.r,v,'#000',2));}
  if(row===2){[T+177,T+214].forEach(v=>seg(bar.l,v,bar.r,v,'#000',2));}
  const labs=fine?labelsFine:(row===2?labelsFour:labelsDefault);
  const labY=fine?[848,885,920,956,992]:[T+148,T+185,T+220];
  const labX=fine?2686:R+19;
  labs.forEach((t,j)=>layout.annotations.push({xref:'paper',yref:'paper',x:fx(labX+(j===0?(fine?5:13):0)),y:fy(labY[j]),xanchor:'left',yanchor:'middle',showarrow:false,text:t,font:{family:serif,size:30,color:'#000'}}));
});
// grey rules above each row
sepY.forEach(y=>sepX.forEach(s=>layout.shapes.push({type:'line',xref:'paper',yref:'paper',x0:fx(s[0]),x1:fx(s[1]),y0:fy(y),y1:fy(y),line:{color:'#d8d8d8',width:2}})));
Plotly.newPlot('c',traces,layout,{displayModeBar:false,staticPlot:true});
</script></body></html>
